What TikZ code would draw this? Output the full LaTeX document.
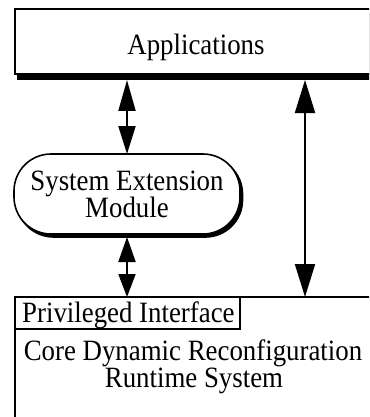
\documentclass[tikz,border=0pt]{standalone}
\usepackage{fontspec}
\setmainfont{Liberation Serif}[FakeStretch=0.91]
\usetikzlibrary{arrows.meta,shadows,calc}
\begin{document}
\begin{tikzpicture}[x=1pt,y=-1pt,
  font=\fontsize{29.5}{28}\selectfont,
  box/.style={draw, line width=2pt, fill=white, inner sep=0pt, outer sep=0pt},
  boxshadow/.style={copy shadow={shadow xshift=3pt, shadow yshift=-5pt, fill=black, draw=black, line width=2pt}},
  pillshadow/.style={copy shadow={shadow xshift=2.5pt, shadow yshift=-3pt, fill=black, draw=black, line width=1.6pt}},
  lbl/.style={inner sep=0pt, anchor=base},
  conn/.style={line width=2pt},
]
\clip (0,0) rectangle (369,417);
\fill[white] (0,0) rectangle (369,417);
% Applications box
\node[box, boxshadow, minimum width=362pt, minimum height=65pt, anchor=north west] (apps) at (15,9) {};
\node[lbl] (appstext) at (196,55) {Applications};
% System Extension Module
\node[box, line width=1.6pt, pillshadow, rounded corners=37pt, minimum width=226pt, minimum height=80pt, anchor=north west] (sem) at (14,154) {};
\node[lbl] (semtext1) at (127,190) {System Extension};
\node[lbl] (semtext2) at (127,217.5) {Module};
% Core box
\node[box, minimum width=380pt, minimum height=140pt, anchor=north west] (core) at (15,297) {};
\node[box, minimum width=225pt, minimum height=32pt, anchor=north west] (priv) at (15,297) {};
\node[lbl, anchor=base west] (privtext) at (22,322) {Privileged Interface};
\node[lbl] (coretext1) at (193,360) {Core Dynamic Reconfiguration};
\node[lbl] (coretext2) at (194,387.5) {Runtime System};
% connectors
\coordinate (appsL) at ($(apps.south west -| sem.north)+(0,6)$);
\coordinate (appsR) at (305,80);
\coordinate (coreR) at (appsR |- core.north);
\coordinate (semS) at ($(sem.south)+(0,3)$);
\draw[conn, {Triangle[length=31pt,width=17pt]}-{Triangle[length=28pt,width=17pt]}] (appsL) -- (sem.north);
\draw[conn, {Triangle[length=25pt,width=17pt]}-{Triangle[length=23pt,width=17pt]}] (semS) -- (sem.south |- core.north);
\draw[conn, {Triangle[length=33pt,width=20pt]}-{Triangle[length=33pt,width=20pt]}] (appsR) -- (coreR);
\end{tikzpicture}
\end{document}
